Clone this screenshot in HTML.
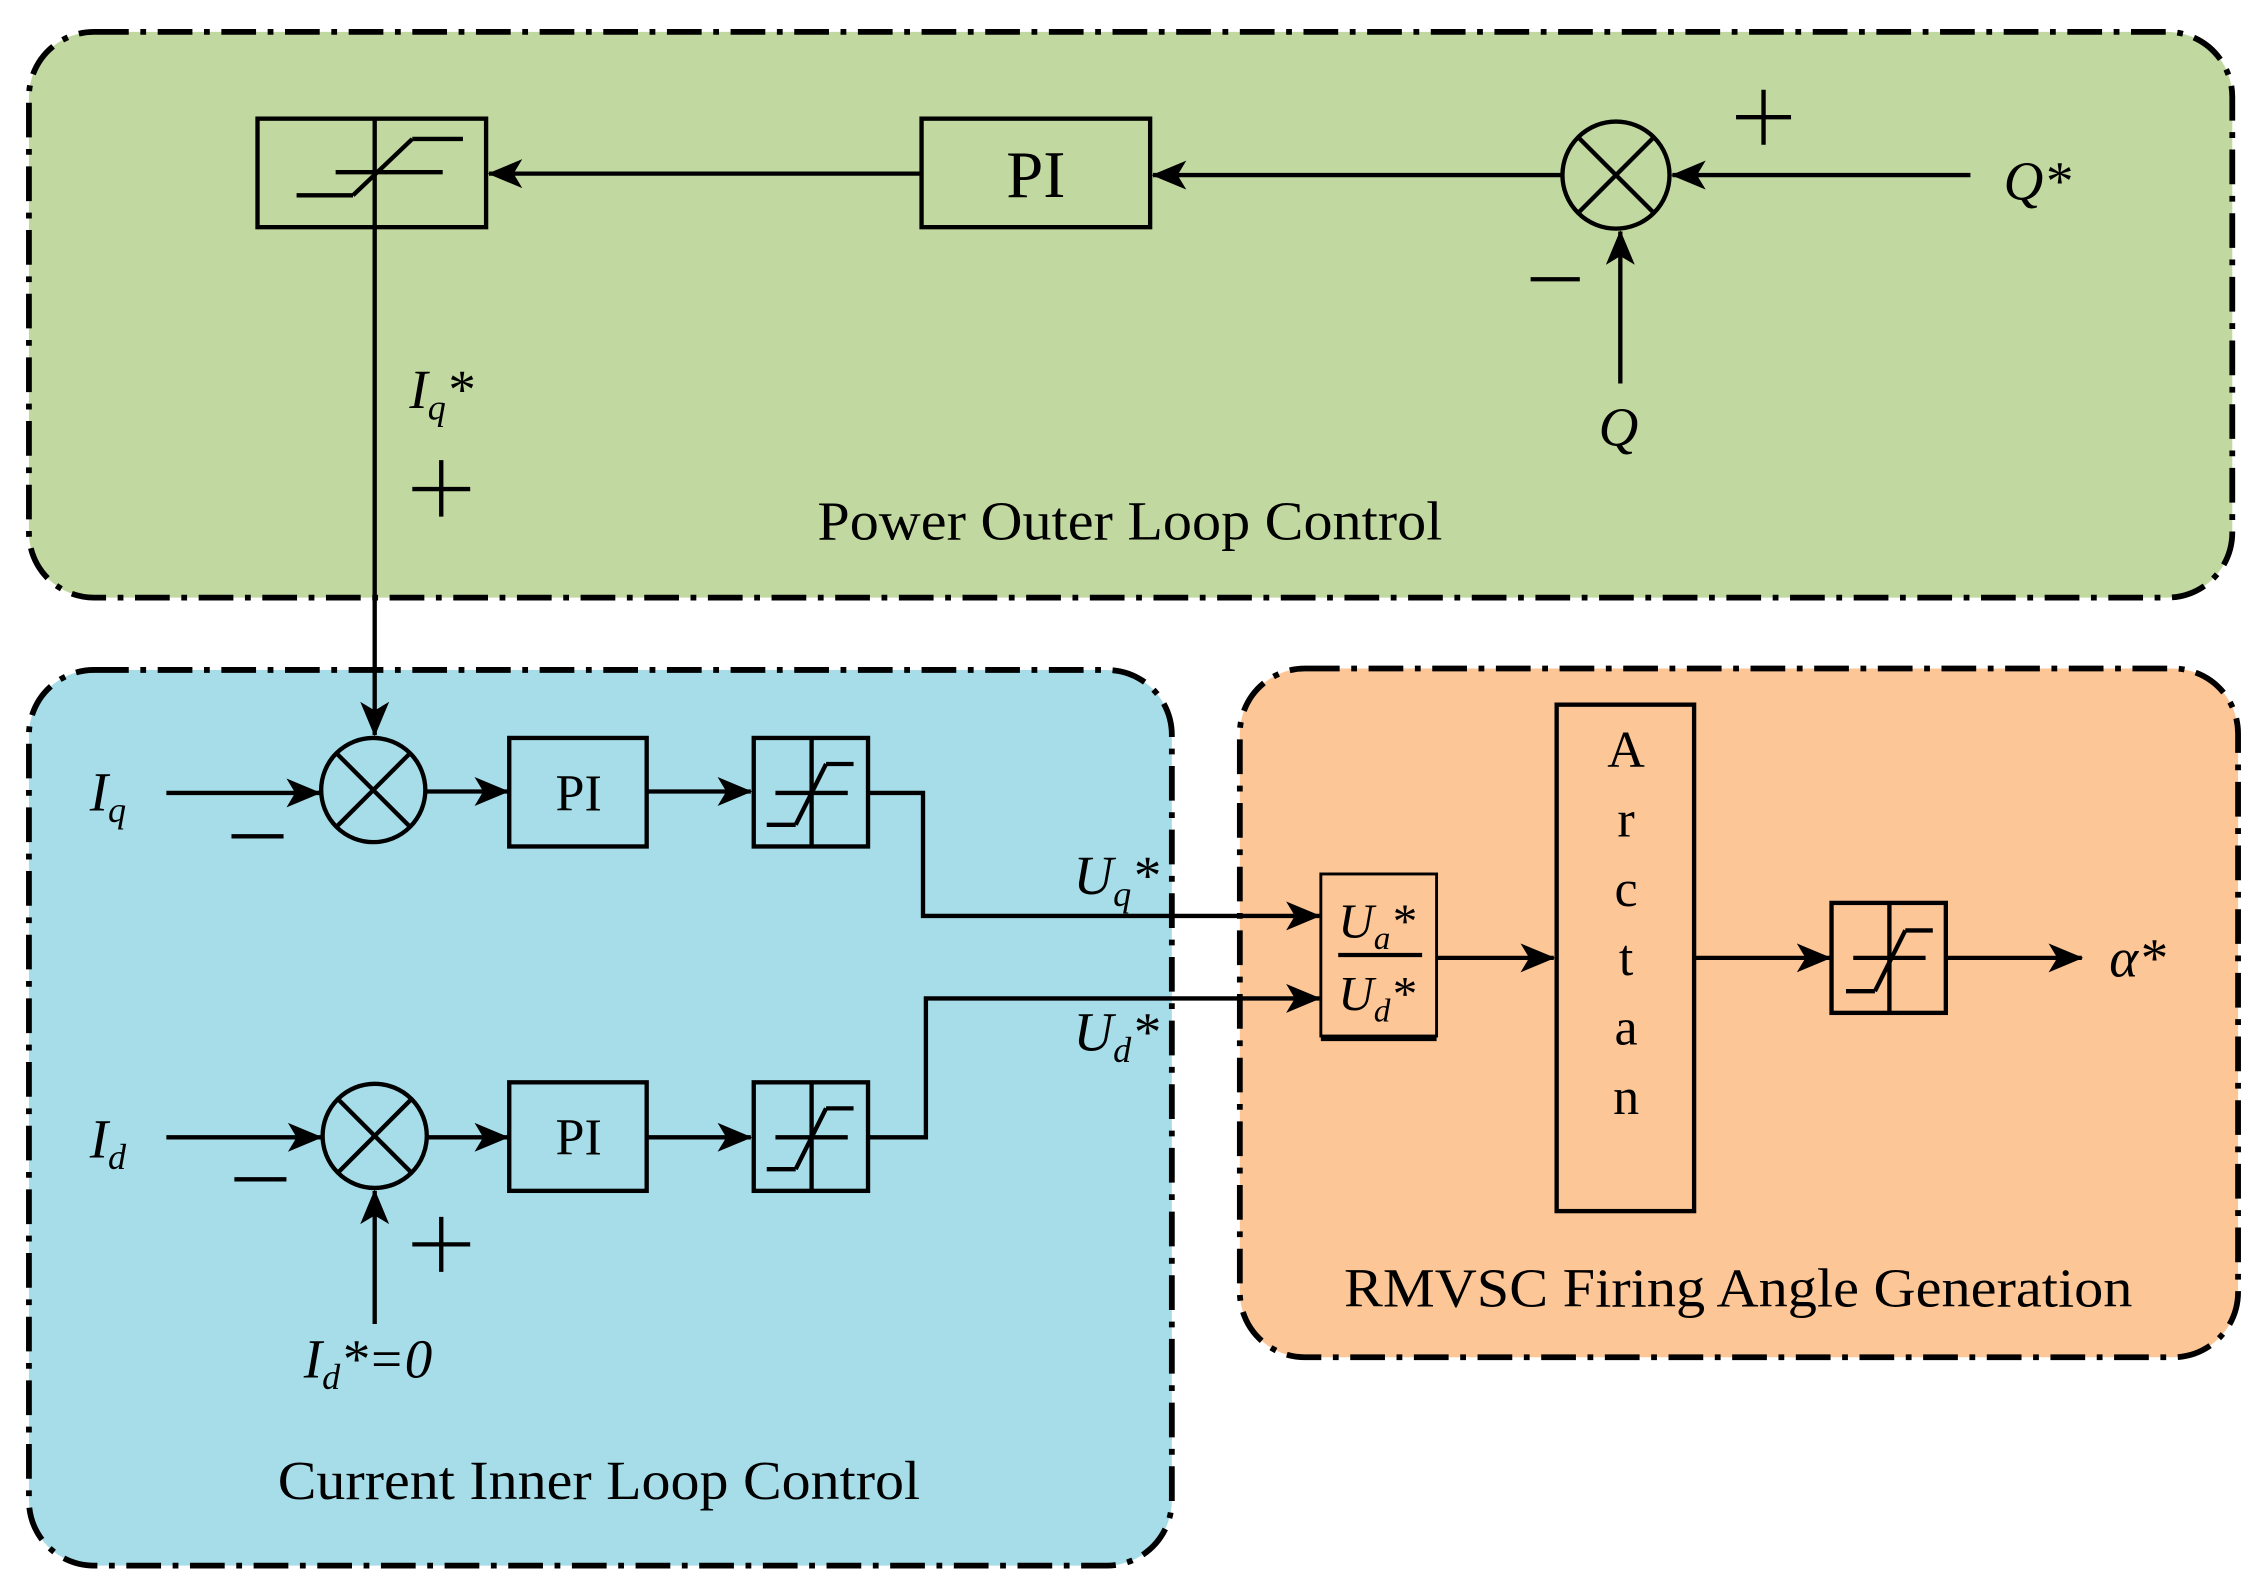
<!DOCTYPE html>
<html><head><meta charset="utf-8"><style>html,body{margin:0;padding:0;background:#fff}svg{display:block}
text{font-family:"Liberation Serif",serif;fill:#000}</style></head><body>
<svg width="2267" height="1596" viewBox="0 0 1567 1103" preserveAspectRatio="none" xmlns="http://www.w3.org/2000/svg">
<defs>
<marker id="b" markerWidth="24" markerHeight="20" refX="23" refY="10" orient="auto" markerUnits="userSpaceOnUse" viewBox="0 0 24 20">
<path d="M0,0 L24,10 L0,20 L6,10 Z" fill="#000"/></marker>
</defs>
<g stroke="#000" stroke-width="4" stroke-dasharray="24 8 4 8">
<rect x="20" y="22" width="1523" height="391" rx="45" fill="#c1d8a0"/>
<rect x="20" y="463" width="790" height="619" rx="45" fill="#a6dde9"/>
<rect x="857" y="462" width="690" height="476" rx="45" fill="#fdc697"/>
</g>
<g stroke="#000" stroke-width="3" fill="none">
<rect x="178" y="82" width="158" height="75"/>
<line x1="259" y1="82" x2="259" y2="508" marker-end="url(#b)"/>
<line x1="205" y1="135" x2="244" y2="135"/><line x1="244" y1="135" x2="285" y2="96"/><line x1="285" y1="96" x2="320" y2="96"/>
<line x1="232" y1="119" x2="306" y2="119"/>
<line x1="637" y1="120" x2="338" y2="120" marker-end="url(#b)"/>
<rect x="637" y="82" width="158" height="75"/>
<line x1="1080" y1="121" x2="797" y2="121" marker-end="url(#b)"/>
<circle cx="1117" cy="121" r="37"/>
<line x1="1091" y1="95" x2="1143" y2="147"/><line x1="1143" y1="95" x2="1091" y2="147"/>
<line x1="1362" y1="121" x2="1156" y2="121" marker-end="url(#b)"/>
<line x1="1120" y1="265" x2="1120" y2="160" marker-end="url(#b)"/>
<line x1="115" y1="548" x2="221" y2="548" marker-end="url(#b)"/>
<circle cx="258" cy="546" r="36"/>
<line x1="233" y1="521" x2="283" y2="571"/><line x1="283" y1="521" x2="233" y2="571"/>
<line x1="295" y1="547" x2="351" y2="547" marker-end="url(#b)"/>
<rect x="352" y="510" width="95" height="75"/>
<line x1="447" y1="547" x2="519" y2="547" marker-end="url(#b)"/>
<rect x="521" y="510" width="79" height="75"/>
<line x1="561" y1="510" x2="561" y2="585"/>
<line x1="530" y1="570" x2="550" y2="570"/><line x1="550" y1="570" x2="571" y2="528"/><line x1="571" y1="528" x2="590" y2="528"/>
<line x1="536" y1="548" x2="586" y2="548"/>
<polyline points="600,548 638,548 638,633 912,633" marker-end="url(#b)"/>
<line x1="115" y1="786" x2="222" y2="786" marker-end="url(#b)"/>
<circle cx="259" cy="785" r="36"/>
<line x1="234" y1="760" x2="284" y2="810"/><line x1="284" y1="760" x2="234" y2="810"/>
<line x1="296" y1="786" x2="351" y2="786" marker-end="url(#b)"/>
<rect x="352" y="748" width="95" height="75"/>
<line x1="447" y1="786" x2="519" y2="786" marker-end="url(#b)"/>
<rect x="521" y="748" width="79" height="75"/>
<line x1="561" y1="748" x2="561" y2="823"/>
<line x1="530" y1="808" x2="550" y2="808"/><line x1="550" y1="808" x2="571" y2="766"/><line x1="571" y1="766" x2="590" y2="766"/>
<line x1="536" y1="786" x2="586" y2="786"/>
<polyline points="600,786 640,786 640,690 912,690" marker-end="url(#b)"/>
<line x1="259" y1="915" x2="259" y2="823" marker-end="url(#b)"/>
<rect x="913" y="604" width="80" height="112" stroke-width="2"/>
<line x1="913" y1="718" x2="993" y2="718" stroke-width="3"/>
<line x1="925" y1="660" x2="983" y2="660"/>
<line x1="993" y1="662" x2="1074" y2="662" marker-end="url(#b)"/>
<rect x="1076" y="487" width="95" height="350"/>
<line x1="1171" y1="662" x2="1265" y2="662" marker-end="url(#b)"/>
<rect x="1266" y="624" width="79" height="76"/>
<line x1="1306" y1="624" x2="1306" y2="700"/>
<line x1="1276" y1="685" x2="1296" y2="685"/><line x1="1296" y1="685" x2="1317" y2="643"/><line x1="1317" y1="643" x2="1336" y2="643"/>
<line x1="1281" y1="662" x2="1331" y2="662"/>
<line x1="1345" y1="662" x2="1439" y2="662" marker-end="url(#b)"/>
<!-- plus / minus -->
<path d="M1200,81 H1238 M1219,62 V100"/>
<path d="M1058,193 H1092"/>
<path d="M285,338 H325 M305,318 V357"/>
<path d="M160,578 H196"/>
<path d="M162,815 H198"/>
<path d="M285,860 H325 M305,841 V879"/>
</g>
<text x="716" y="136" font-size="46" text-anchor="middle">PI</text>
<g font-size="36" text-anchor="middle">
<text x="400" y="560">PI</text><text x="400" y="798">PI</text>
</g>
<g font-size="38">
<text x="565" y="373" textLength="432" lengthAdjust="spacingAndGlyphs">Power Outer Loop Control</text>
<text x="192" y="1036" textLength="444" lengthAdjust="spacingAndGlyphs">Current Inner Loop Control</text>
<text x="929" y="903" textLength="545" lengthAdjust="spacingAndGlyphs">RMVSC Firing Angle Generation</text>
</g>
<g font-size="36" text-anchor="middle">
<text x="1124" y="530">A</text><text x="1124" y="578">r</text><text x="1124" y="626">c</text>
<text x="1124" y="674">t</text><text x="1124" y="722">a</text><text x="1124" y="770">n</text>
</g>
<g font-size="38" font-style="italic">
<text x="1385" y="138">Q*</text>
<text x="1105" y="308">Q</text>
<text x="283" y="282">I<tspan font-size="25" dy="8">q</tspan><tspan dy="-8">*</tspan></text>
<text x="62" y="560">I<tspan font-size="25" dy="8">q</tspan></text>
<text x="62" y="800">I<tspan font-size="25" dy="8">d</tspan></text>
<text x="210" y="952">I<tspan font-size="25" dy="8">d</tspan><tspan dy="-8">*=0</tspan></text>
<text x="742" y="618">U<tspan font-size="25" dy="8">q</tspan><tspan dy="-8">*</tspan></text>
<text x="742" y="726">U<tspan font-size="25" dy="8">d</tspan><tspan dy="-8">*</tspan></text>
<text x="925" y="648" font-size="34">U<tspan font-size="23" dy="8">a</tspan><tspan dy="-8">*</tspan></text>
<text x="925" y="698" font-size="34">U<tspan font-size="23" dy="8">d</tspan><tspan dy="-8">*</tspan></text>
<text x="1458" y="675">α*</text>
</g>
</svg>
</body></html>
